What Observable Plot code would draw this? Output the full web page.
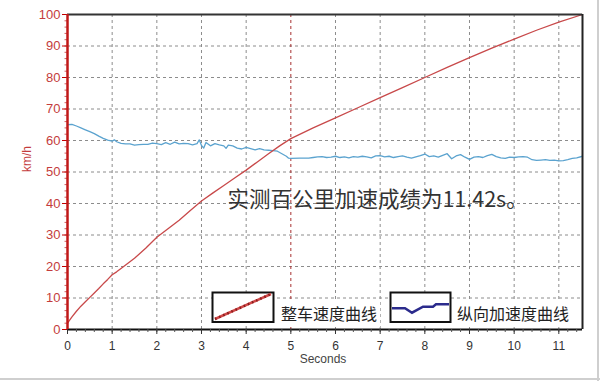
<!DOCTYPE html>
<html><head><meta charset="utf-8">
<script src="https://cdn.jsdelivr.net/npm/d3@7"></script>
<script src="https://cdn.jsdelivr.net/npm/@observablehq/plot@0.6"></script>
<style>
body{margin:0;background:#fff;}
#wrap{position:relative;width:600px;height:381px;overflow:hidden;background:#fff;}
#wrap .bR{position:absolute;left:597px;top:0;width:2px;height:381px;background:#cfcfcf;}
#wrap .bB{position:absolute;left:0;top:378px;width:600px;height:2px;background:#cfcfcf;}
</style></head><body><div id="wrap"></div><script>
// ---- data ----
const speedT = [0,0.1,0.2,0.3,0.4,0.5,0.6,0.7,0.8,0.9,1.0,1.1,1.25,1.5,1.75,2,2.25,2.5,2.75,3,3.25,3.5,3.75,4,4.25,4.5,4.75,5,5.5,6,6.5,7,7.5,8,8.5,9,9.5,10,10.5,11,11.53];
const speedV = [2,4,5.8,7.4,8.8,10.2,11.6,13,14.5,15.9,17.4,18.3,19.9,22.6,25.8,29.3,32,34.7,37.8,40.8,43.3,45.7,48.2,50.6,53.2,55.8,58.3,60.6,64,67.2,70.4,73.6,76.8,80,83.2,86.3,89.3,92.2,95,97.6,100];
const accT = [0,0.1,0.2,0.3,0.4,0.5,0.6,0.7,0.8,0.9,1.0,1.05,1.1,1.2,1.3,1.4,1.5,1.6,1.7,1.8,1.9,2.0,2.1,2.2,2.3,2.4,2.5,2.6,2.7,2.8,2.9,2.95,3.0,3.05,3.1,3.2,3.3,3.4,3.5,3.55,3.6,3.7,3.8,3.9,4.0,4.1,4.2,4.3,4.4,4.5,4.6,4.7,4.8,4.9,4.95,5.0,5.2,5.4,5.5,5.6,5.7,5.8,5.9,6.0,6.1,6.2,6.3,6.4,6.5,6.6,6.7,6.8,6.9,7.0,7.1,7.2,7.3,7.4,7.5,7.6,7.7,7.8,7.9,8.0,8.1,8.2,8.3,8.4,8.5,8.6,8.7,8.8,8.9,9.0,9.1,9.2,9.3,9.4,9.5,9.6,9.7,9.8,9.9,10.0,10.1,10.2,10.3,10.4,10.5,10.6,10.7,10.8,10.9,11.0,11.1,11.2,11.3,11.4,11.53];
const accV = [65.0,65.1,64.6,64.0,63.4,62.8,62.2,61.4,60.7,60.1,59.8,60.2,59.6,59.1,58.9,58.9,58.5,58.7,58.8,58.8,59.2,59.0,58.7,59.3,58.8,59.5,58.9,59.1,59.0,58.6,59.0,60.2,58.4,57.6,59.4,58.3,59.0,58.6,58.3,57.5,58.5,58.3,57.6,57.3,57.8,57.4,57.0,57.4,57.0,56.9,56.8,56.6,55.8,55.0,54.4,54.3,54.4,54.4,54.6,54.8,54.9,54.6,54.7,55.0,54.6,54.8,54.5,54.9,54.7,55.0,54.8,54.5,55.1,55.2,54.8,55.0,54.6,54.9,55.1,54.7,54.4,54.8,55.2,55.7,54.9,55.1,54.7,55.3,55.8,54.2,55.1,55.5,54.7,54.0,54.7,54.9,54.6,55.2,55.6,54.9,54.5,54.3,54.7,54.6,54.8,54.9,54.7,53.9,53.7,53.8,53.9,53.7,53.8,53.5,53.6,53.9,54.3,54.5,55.0];
const xTicks = [0,1,2,3,4,5,6,7,8,9,10,11];
const yTicks = [0,10,20,30,40,50,60,70,80,90,100];
const markerT = [5];
const xLabel = "Seconds";
const yLabel = "km/h";
const seriesNames = ["整车速度曲线", "纵向加速度曲线"];
const note = ["实测百公里加速成绩为11.42s。"];
const noteX = [3.58];
const noteY = [40.95];

const speed = speedT.map((t, i) => ({t, v: speedV[i]}));
const acc = accT.map((t, i) => ({t, v: accV[i]}));
const xMax = 11.53;
const RED = "#c43c3c";

const plot = Plot.plot({
  width: 600, height: 381,
  marginLeft: 67, marginRight: 18, marginTop: 14, marginBottom: 52,
  x: {domain: [0, xMax]},
  y: {domain: [0, 100]},
  style: {fontFamily: "'Liberation Sans', Arial, sans-serif", background: "transparent"},
  marks: [
    Plot.ruleX(xTicks.filter(d => d > 0 && d !== 5), {stroke: "#8c8c8c", strokeDasharray: "3,3", strokeWidth: 1}),
    Plot.ruleY(yTicks.filter(d => d > 0 && d < 100), {stroke: "#8c8c8c", strokeDasharray: "3,3", strokeWidth: 1}),
    Plot.ruleX(markerT, {stroke: "#a83030", strokeDasharray: "3,3", strokeWidth: 1}),
    Plot.line(acc, {x: "t", y: "v", stroke: "#5ba3cf", strokeWidth: 1.3}),
    Plot.line(speed, {x: "t", y: "v", stroke: "#c8494a", strokeWidth: 1.3}),
    Plot.ruleY([100], {stroke: "#333", strokeWidth: 2}),
    Plot.ruleX([xMax], {stroke: "#222", strokeWidth: 2}),
    Plot.ruleY([0], {stroke: "#111", strokeWidth: 2}),
    Plot.axisX(d3.range(0, 58).map(i => i * 0.2), {tickSize: 3, fill: "none", stroke: "#555", label: null}),
    Plot.axisX(xTicks, {tickSize: 5, tickPadding: 7, color: "#333", fontSize: 12, label: null}),
    Plot.axisY(d3.range(0, 51).map(i => i * 2), {tickSize: 2.5, fill: "none", stroke: "#d06060", label: null}),
    Plot.axisY(yTicks, {tickSize: 5, tickPadding: 2, stroke: "#c00000", fill: RED, fontSize: 13, label: null}),
    Plot.ruleX([0], {stroke: "#c01818", strokeWidth: 2.5}),
    Plot.text([yLabel], {frameAnchor: "left", dx: -40, rotate: -90, fill: RED, fontSize: 12, text: d => d}),
    Plot.text([xLabel], {frameAnchor: "bottom", dy: 33, dx: -2, fill: "#444", fontSize: 12, text: d => d}),
    Plot.text(note, {x: (d, i) => noteX[i], y: (d, i) => noteY[i], text: d => d, textAnchor: "start",
      fontSize: 21.5, fill: "#333", fontFamily: "'Noto Sans CJK SC', sans-serif"})
  ]
});

// legend
const svg = d3.select(plot);
const lg = svg.append("g").attr("font-family", "'Noto Sans CJK SC', sans-serif").attr("text-anchor", "start");
lg.append("rect").attr("x", 277).attr("y", 299).attr("width", 103).attr("height", 28).attr("fill", "#fff");
lg.append("rect").attr("x", 453).attr("y", 299).attr("width", 119).attr("height", 28).attr("fill", "#fff");
lg.append("rect").attr("x", 212.5).attr("y", 292.5).attr("width", 61).attr("height", 29.5)
  .attr("fill", "#fff").attr("stroke", "#111").attr("stroke-width", 2);
lg.append("line").attr("x1", 215).attr("y1", 319).attr("x2", 271).attr("y2", 294)
  .attr("stroke", "#d04848").attr("stroke-width", 2.5);
lg.append("line").attr("x1", 215).attr("y1", 319).attr("x2", 271).attr("y2", 294)
  .attr("stroke", "#8a1c1c").attr("stroke-width", 2.5).attr("stroke-dasharray", "1.5,3");
lg.append("rect").attr("x", 390.5).attr("y", 292.5).attr("width", 60).attr("height", 29.5)
  .attr("fill", "#fff").attr("stroke", "#111").attr("stroke-width", 2);
lg.append("path").attr("d", "M392,308.3L405,308.3L412,312.7L423,306.7L433,306.7L436,304.3L449,304.3")
  .attr("fill", "none").attr("stroke", "#2b2b8c").attr("stroke-width", 2.5);
lg.append("text").attr("x", 281).attr("y", 320).attr("font-size", 16).attr("fill", "#222").text(seriesNames[0]);
lg.append("text").attr("x", 457).attr("y", 320).attr("font-size", 16).attr("fill", "#222").text(seriesNames[1]);

const wrap = document.getElementById("wrap");
wrap.appendChild(plot);
const br = document.createElement("div"); br.className = "bR"; wrap.appendChild(br);
const bb = document.createElement("div"); bb.className = "bB"; wrap.appendChild(bb);
</script></body></html>
